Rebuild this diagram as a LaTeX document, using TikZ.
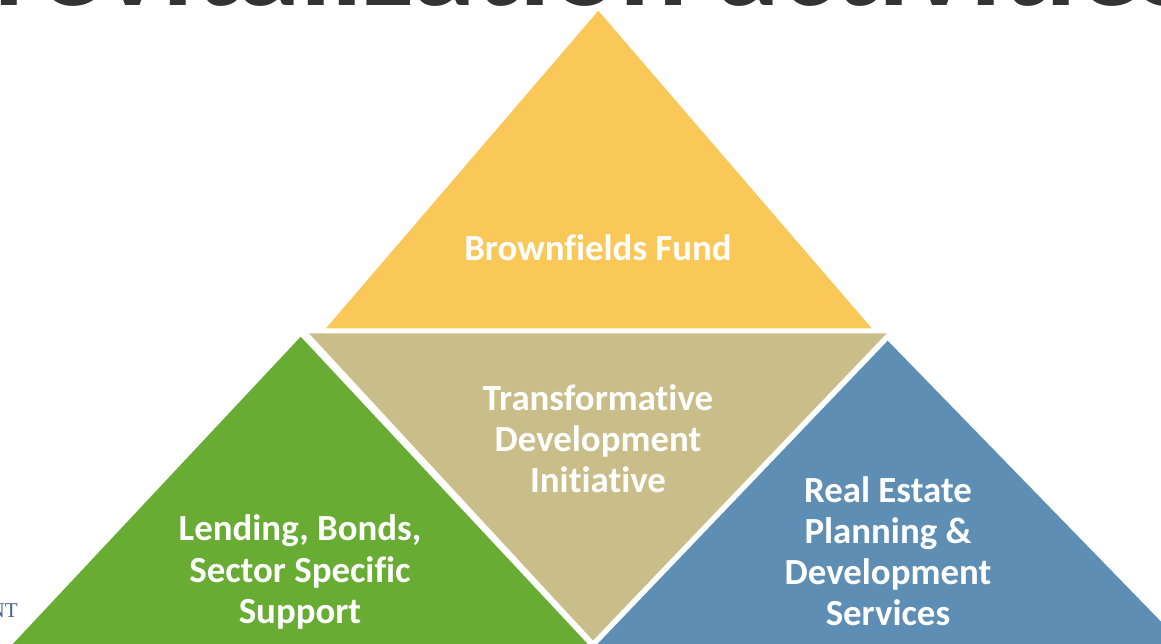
\documentclass[tikz,border=0pt]{standalone}
\usepackage{fontspec}
\setmainfont{Carlito}[Ligatures=NoCommon]
\newfontfamily\notefont{Liberation Serif}
\definecolor{fundyellow}{HTML}{F9C859}
\definecolor{initan}{HTML}{C9BD89}
\definecolor{lendgreen}{HTML}{68AC34}
\definecolor{estateblue}{HTML}{5E8EB3}
\definecolor{titlegray}{HTML}{333333}
\definecolor{notegray}{HTML}{46638F}
\tikzset{
  tri text/.style={text=white, font=\bfseries\fontsize{26.2}{29.2}\selectfont, align=center, inner sep=0pt},
  title text/.style={text=titlegray, font=\bfseries\fontsize{91}{100}\selectfont, inner sep=0pt}
}
\begin{document}
\begin{tikzpicture}[x=0.025cm, y=-0.025cm]
\useasboundingbox (0,0) rectangle (1161,643);
\clip (0,0) rectangle (1161,643);

% Title, cut off at the top
\node[title text, anchor=base west] (title) at (-6,6) {revitalization activities};

% Note at the left edge
\node[text=notegray, font=\notefont\fontsize{15}{18}\selectfont, anchor=base east, inner sep=0pt] (note) at (18,617) {NT};

% Triangles
\fill[fundyellow] (598.3,10.7) -- (871.7,328.3) -- (326,328.3) -- cycle;
\fill[initan] (309,333.3) -- (886.7,333.3) -- (593,640.5) -- cycle;
\fill[lendgreen] (300.7,336.7) -- (640,700) -- (-39.7,700) -- cycle;
\fill[estateblue] (887.7,340.7) -- (1237.3,700) -- (543.9,700) -- cycle;

% Labels
\node[tri text] (fund) at (598,248) {Brownfields Fund};
\node[tri text] (tdi) at (598,439) {Transformative\\Development\\Initiative};
\node[tri text] (lending) at (300,572) {Lending, Bonds,\\Sector Specific\\Support};
\node[tri text] (estate) at (888,551) {Real Estate\\Planning \&\\Development\\Services};
\end{tikzpicture}
\end{document}
